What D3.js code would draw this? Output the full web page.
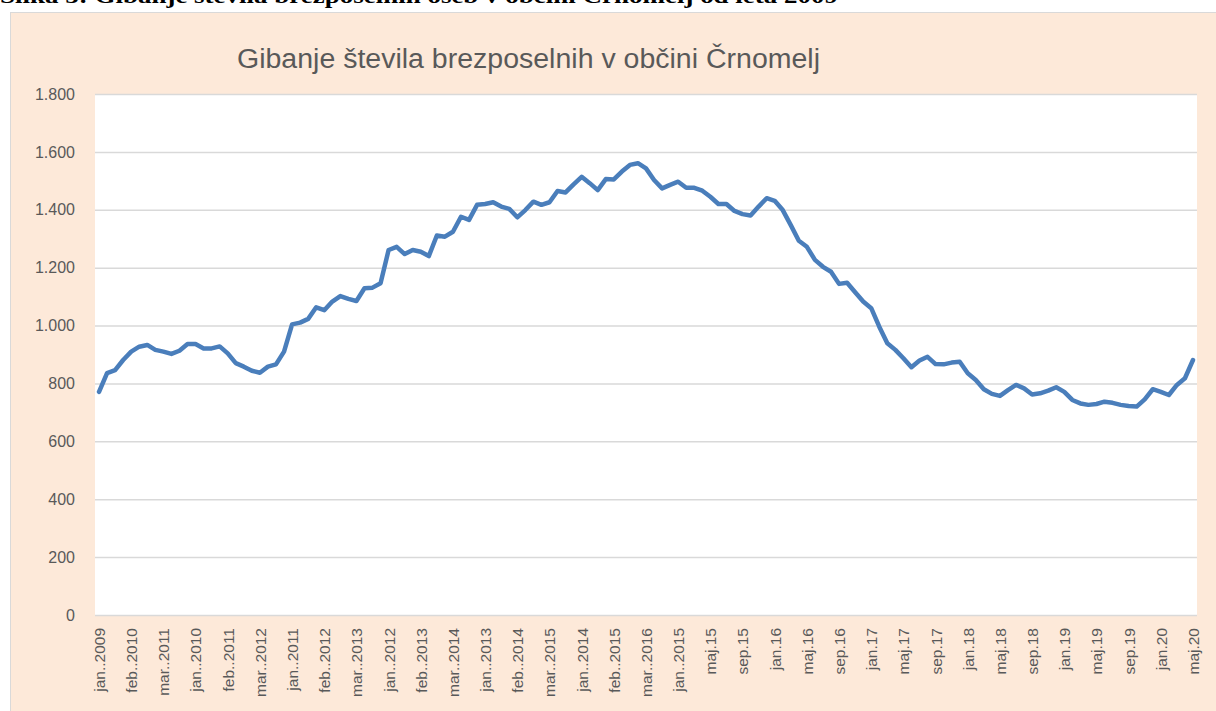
<!DOCTYPE html>
<html lang="sl">
<head>
<meta charset="utf-8">
<title>Gibanje števila brezposelnih v občini Črnomelj</title>
<script src="https://cdn.jsdelivr.net/npm/d3@7"></script>
<style>
body { margin: 0; background: #fff; }
text { font-family: "Liberation Sans", Arial, sans-serif; fill: #595959; }
.grid line { stroke: #d9d9d9; stroke-width: 1.5px; }
.grid path { display: none; }
.line { fill: none; stroke: #4a7ebb; stroke-width: 4.5px; stroke-linejoin: round; stroke-linecap: round; }
</style>
</head>
<body>
<script>
// monthly values, jan 2009 .. maj 2020
var values = [
  771, 836, 846, 881, 910, 927, 933, 916, 910, 902, 913, 936,
  936, 921, 921, 928, 904, 870, 858, 844, 837, 858, 866, 910,
  1004, 1010, 1023, 1063, 1053, 1083, 1102, 1092, 1085, 1129, 1131, 1146,
  1261, 1272, 1247, 1261, 1255, 1240, 1311, 1307, 1324, 1376, 1365, 1417,
  1420, 1426, 1411, 1403, 1374, 1399, 1428, 1417, 1426, 1465, 1460, 1488,
  1514, 1492, 1468, 1506, 1505, 1532, 1555, 1561, 1543, 1503, 1474, 1486,
  1497, 1476, 1476, 1466, 1445, 1420, 1420, 1396, 1385, 1380, 1411, 1440,
  1431, 1399, 1347, 1293, 1272, 1227, 1203, 1186, 1144, 1148, 1115, 1083,
  1060, 996, 939, 916, 887, 856, 879, 892, 867, 866, 872, 875,
  835, 812, 780, 764, 757, 777, 795, 783, 762, 766, 775, 787,
  771, 743, 731, 726, 729, 737, 733, 726, 722, 720, 745, 780,
  771, 760, 795, 818, 881
];

// every 4th category gets a label (as written in the source)
var tickLabels = [
  "jan..2009", "feb..2010", "mar..2011", "jan..2010", "feb..2011", "mar..2012",
  "jan..2011", "feb..2012", "mar..2013", "jan..2012", "feb..2013", "mar..2014",
  "jan..2013", "feb..2014", "mar..2015", "jan..2014", "feb..2015", "mar..2016",
  "jan..2015", "maj.15", "sep.15", "jan.16", "maj.16", "sep.16", "jan.17",
  "maj.17", "sep.17", "jan.18", "maj.18", "sep.18", "jan.19", "maj.19",
  "sep.19", "jan.20", "maj.20"
];

var yTicks = [0, 200, 400, 600, 800, 1000, 1200, 1400, 1600, 1800];

var w = 1216, h = 711;
var pLeft = 95, pRight = 1197, pTop = 94, pBottom = 615;

var svg = d3.select("body").append("svg")
    .attr("width", w)
    .attr("height", h);

// chart area
svg.append("rect")
    .attr("x", 10.5).attr("y", 12.5)
    .attr("width", w).attr("height", h)
    .attr("fill", "#fde9d9")
    .attr("stroke", "#d9d9d9");

// figure caption, cut off at the top
svg.append("text")
    .attr("x", 0).attr("y", 3)
    .attr("textLength", 838)
    .attr("lengthAdjust", "spacingAndGlyphs")
    .style("font-family", "'Liberation Serif', 'Times New Roman', serif")
    .style("font-weight", "bold")
    .style("font-size", "21px")
    .style("fill", "#000")
    .text("Slika 5: Gibanje števila brezposelnih oseb v občini Črnomelj od leta 2009");

svg.append("text")
    .attr("x", 237).attr("y", 68)
    .attr("textLength", 583)
    .attr("lengthAdjust", "spacingAndGlyphs")
    .style("font-size", "27px")
    .text("Gibanje števila brezposelnih v občini Črnomelj");

// plot area
svg.append("rect")
    .attr("x", pLeft).attr("y", pTop)
    .attr("width", pRight - pLeft).attr("height", pBottom - pTop)
    .attr("fill", "#fff");

var x = d3.scalePoint()
    .domain(d3.range(values.length))
    .range([pLeft, pRight])
    .padding(0.5);

var y = d3.scaleLinear()
    .domain([0, 1800])
    .range([pBottom, pTop]);

var sl = d3.formatLocale({ decimal: ",", thousands: ".", grouping: [3], currency: ["", ""] });
var fmt = sl.format(",d");

svg.append("g")
    .attr("class", "grid")
    .attr("transform", "translate(" + pLeft + ",0)")
    .call(d3.axisRight(y).tickValues(yTicks).tickSize(pRight - pLeft).tickFormat(""));

var ya = svg.append("g")
    .attr("transform", "translate(" + (pLeft - 20) + ",0)")
    .call(d3.axisLeft(y).tickValues(yTicks).tickSize(0).tickFormat(fmt));
ya.select(".domain").remove();
ya.selectAll("text")
    .attr("x", 0)
    .style("font-size", "16px")
    .style("font-family", "'Liberation Sans', Arial, sans-serif")
    .style("fill", "#595959");

var xa = svg.append("g")
    .attr("transform", "translate(0," + pBottom + ")")
    .call(d3.axisBottom(x)
        .tickValues(d3.range(0, values.length, 4))
        .tickSize(0)
        .tickFormat(function(i){ return tickLabels[i / 4]; }));
xa.select(".domain").remove();
xa.selectAll("text")
    .attr("transform", "rotate(-90)")
    .attr("x", -13)
    .attr("y", 0)
    .attr("dy", "0.35em")
    .style("text-anchor", "end")
    .style("font-size", "15.5px")
    .style("font-family", "'Liberation Sans', Arial, sans-serif")
    .style("fill", "#595959");

var line = d3.line()
    .x(function(d, i){ return x(i); })
    .y(function(d){ return y(d); });

svg.append("path")
    .datum(values)
    .attr("class", "line")
    .attr("d", line);
</script>
</body>
</html>
